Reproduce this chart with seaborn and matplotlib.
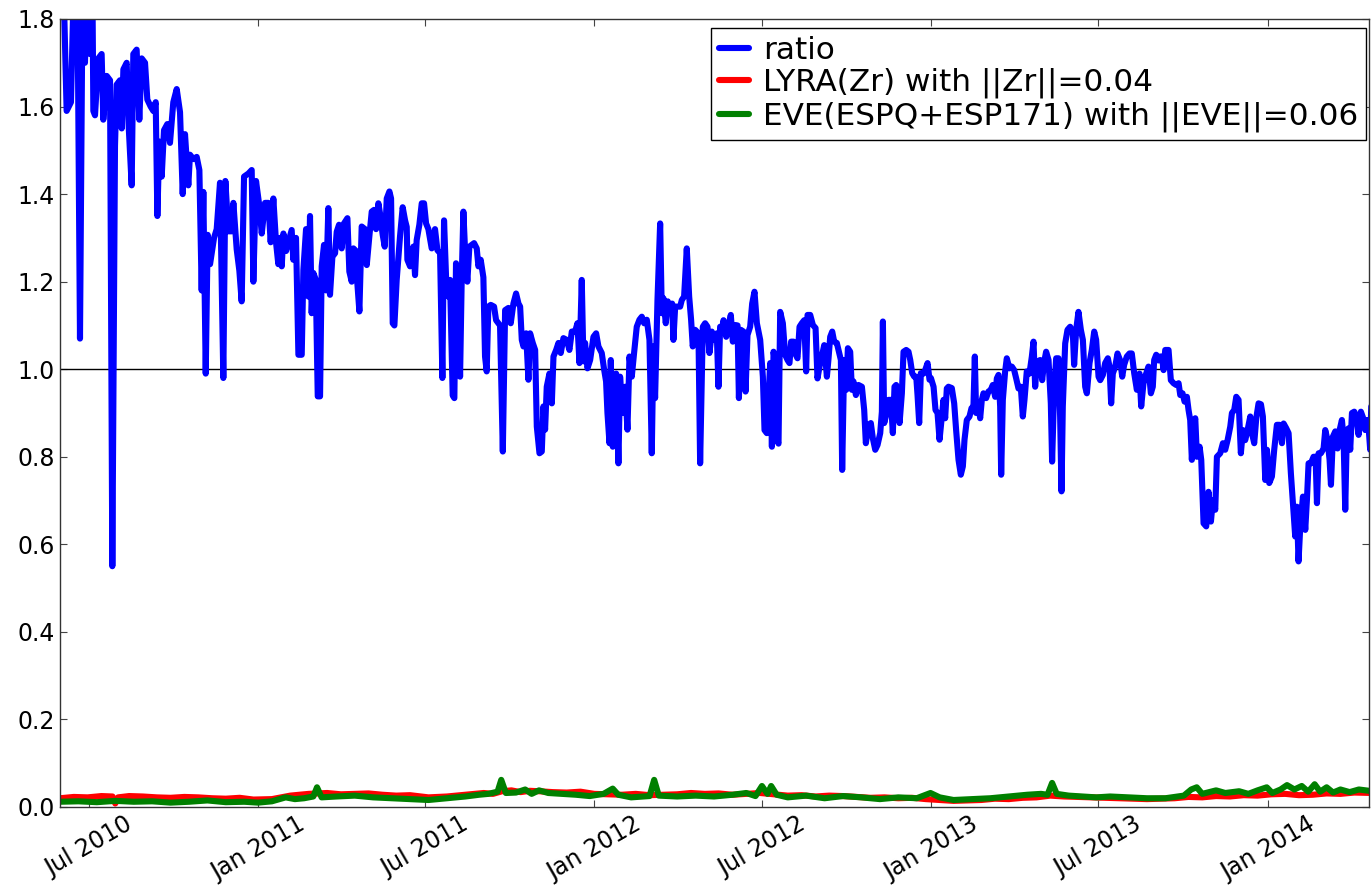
import numpy as np
import pandas as pd
import matplotlib
matplotlib.use("Agg")
import matplotlib.pyplot as plt
import matplotlib.dates as mdates
from matplotlib.ticker import FormatStrFormatter
import seaborn as sns

# Time axis: days counted from the first day of the series
START = pd.Timestamp("2010-05-31")
END = pd.Timestamp("2014-04-21")

ratio_day = [
    0, 3.6, 7.2, 11.9, 15.2, 18.8, 21.7, 24.6, 27.1, 29.7, 32.6, 35.1, 36.2, 38, 41.6, 45.2, 47, 50.7,
    54.3, 56.8, 59.7, 61.5, 65.1, 67, 68.8, 72.4, 74.2, 77.8, 79.6, 83.2, 86.1, 88.7, 92.3, 94.8, 98.4,
    101.3, 103.9, 105.7, 107.8, 110.4, 112.9, 116.5, 119.4, 123, 126.7, 130.3, 133.2, 135.7, 139.3,
    141.1, 144.8, 148.4, 151.3, 153.8, 155.6, 158.2, 160.3, 162.9, 167.2, 170.1, 173.7, 177.3, 179.5,
    182.8, 186.4, 188.2, 191.8, 194.7, 197.2, 199.8, 204.5, 208.1, 209.9, 212.8, 216.4, 219, 222.6,
    226.2, 228.7, 231.6, 234.5, 237, 238.9,
    240.7, 242.5, 245.4, 247.9, 251.5, 253.3, 256.2, 258.8, 262.4, 264.2, 267.1, 269.6, 271.4, 273.2,
    275, 277.6, 279.8, 282.3, 284.1, 286.6, 288.8, 291.3, 293.1, 295.7, 298.6, 300.4, 302.9, 305.8,
    308.3, 312, 314.1, 316.7, 318.5, 321.4, 322.8, 325, 327.5, 331.1, 333, 335.8, 338.4, 340.9, 343.1,
    345.6, 347.4, 350.3, 352.5, 354.7, 357.6, 359.4, 361.2, 363, 365.5, 369.1, 372, 374.6, 376.4, 377.1,
    380, 383.6, 385.4, 387.2, 390.1, 392.7, 395.2, 397.4, 399.9, 403.5, 407.1, 409.7, 412.6, 415.1,
    416.9, 419.1, 421.6, 423.4, 426.3, 428.1, 429.9, 432.5, 434.3, 436.1, 437.9, 439.7, 442.2, 444.4,
    447, 449.5, 452.4, 454.2, 456.7, 459.6, 461.4, 463.2, 465, 467.6, 471.2, 473.4, 477.7,
    480.7, 483.2, 486.8, 489.3, 492.2, 495.1, 497.7, 499.5, 501.3, 503.1, 506, 508.5, 510.3, 513.2,
    515.8, 517.6, 520.5, 523, 524.8, 526.6, 528.4, 531.3, 533.9, 535.7, 538.6, 541.1, 543.6, 546.5,
    550.1, 553, 555.6, 559.2, 561.7, 563.9, 566.4, 568.2, 570, 572.6, 575.5, 579.1, 582, 584.5, 588.1,
    590.7, 592.8, 594.3, 596.5, 597.9, 600.1, 601.5, 603.7, 606.2, 608, 610.9, 613.5, 616, 618.2, 620.7,
    623.2, 626.1, 629, 631.6, 634.1, 637, 639.9, 642.4, 644.2, 646, 648.6, 651.5, 653.3, 655.1, 657.6,
    659.8, 662.3, 664.5, 665.9, 667.8, 670.3, 673.2, 675, 677.5, 680.4, 683, 685.1, 686.9, 689.5, 693.1,
    694.9, 697.8, 700.3, 702.9, 705, 707.6, 710.1, 713, 714.8, 716.6,
    718.5, 720.3, 723.2, 725.7, 728.2, 730.4, 733, 735.5, 737, 739.1, 742, 744.2, 746.3, 749.2, 751.4,
    753.9, 756.5, 760.1, 763, 764.8, 767.3, 769.5, 771, 772.8, 774.6, 776.4, 778.2, 780, 781.8, 784.7,
    787.2, 789.8, 791.9, 793.7, 796.3, 798.1, 800.6, 802.8, 805.3, 807.9, 810, 811.5, 814.4, 817.3,
    820.2, 822.3, 825.2, 827.4, 829.6, 832.5, 834.3, 836.1, 838.3, 840.4, 843.3, 845.5, 847.7, 849.1,
    851.3, 853.5, 855.3, 857.8, 859.6, 861.4, 864, 866.8, 870.5, 873, 874.8, 877.7, 880.2, 882.4, 885,
    887.5, 890.4, 892.2, 893.3, 894.7, 896.9, 899.4, 902, 904.1, 905.9, 907.7, 909.2, 911.4, 913.9,
    915.7, 918.6, 921.1, 923, 925.1, 927.3, 929.5, 930.9, 932.7, 934.5, 937.4, 939.2, 941.8, 943.9,
    945.4, 948.3, 950.4, 952.6, 954.8,
    957.3, 959.1, 960.9, 962.7, 964.5, 968.1, 970.7, 972.8, 975.4, 977.9, 980.1, 981.9, 984.4, 987.3,
    989.5, 991.6, 993.1, 994.5, 997.1, 998.9, 1000.7, 1002.5, 1005.4, 1007.9, 1010.5, 1012.6, 1015.2,
    1017, 1018.8, 1020.6, 1021.7, 1023.5, 1026, 1027.8, 1030.7, 1033.3, 1035.8, 1038, 1040.5, 1043,
    1045.2, 1047, 1049.5, 1052.4, 1055, 1056.8, 1058.6, 1060.4, 1064, 1066.2, 1068.4, 1070.5, 1073.1,
    1075.6, 1077, 1079.2, 1081.4, 1083.9, 1085.7, 1087.2, 1088.6, 1091.2, 1093.7, 1096.6, 1099.5,
    1100.9, 1103.1, 1105.6, 1108.2, 1110.4, 1112.9, 1114.7, 1117.6, 1120.1, 1122.7, 1124.8, 1127.4,
    1129.2, 1132.1, 1134.6, 1137.5, 1139.3, 1141.1, 1142.9, 1145.5, 1148, 1150.9, 1153.1, 1155.2,
    1158.1, 1161, 1163.5, 1166.1, 1169, 1171.9, 1173.7, 1176.2, 1179.1, 1181.6, 1184.2, 1186.3,
    1187.8, 1190, 1192.5, 1194.3,
    1196.2, 1198, 1199.8, 1203.4, 1205.9, 1208.8, 1211.7, 1214.3, 1216.1, 1218.6, 1220.8, 1223.3,
    1225.1, 1226.9, 1228.7, 1230.5, 1232.4, 1234.2, 1237.1, 1238.9, 1241.4, 1244.3, 1246.8, 1249.4,
    1251.5, 1254.1, 1255.9, 1259.5, 1262.4, 1264.9, 1267.5, 1270.4, 1272.2, 1274.7, 1276.9, 1279.4,
    1281.9, 1284.1, 1286.6, 1289.2, 1292.1, 1293.9, 1296.4, 1298.6, 1301.1, 1303.7, 1305.8, 1308.4,
    1310.2, 1312.7, 1315.6, 1318.1, 1321, 1323.9, 1326.5, 1328.3, 1331.2, 1333.7, 1336.2, 1339.1,
    1340.9, 1342.7, 1344.5, 1346.4, 1349.3, 1351.8, 1353.6, 1355.4, 1357.9, 1360.8, 1363, 1364.5,
    1366.3, 1368.8, 1371.7, 1373.5, 1376, 1378.2, 1379.7, 1381.8, 1384.4, 1386.9, 1389.1, 1391.6,
    1393.4, 1395.2, 1397, 1398.8, 1400.6, 1402.5, 1405, 1407.2, 1409.7, 1412.2, 1414.4, 1416.9,
    1418.7, 1420.5, 1422.3, 1423.4,
]
ratio_val = [
    1.90, 1.90, 1.59, 1.61, 1.90, 1.90, 1.07, 1.90, 1.70, 1.90, 1.72, 1.90, 1.59, 1.58, 1.71, 1.72, 1.57, 1.67,
    1.66, 0.55, 1.51, 1.65, 1.66, 1.55, 1.685, 1.70, 1.57, 1.42, 1.72, 1.73, 1.57, 1.71, 1.70, 1.616, 1.60,
    1.59, 1.61, 1.35, 1.52, 1.44, 1.546, 1.56, 1.517, 1.61, 1.64, 1.587, 1.40, 1.537, 1.42,
    1.49, 1.48, 1.485, 1.455, 1.18, 1.405, 0.99, 1.307, 1.24, 1.30, 1.32, 1.426, 0.98, 1.43,
    1.315, 1.315, 1.38, 1.274, 1.225, 1.155, 1.44, 1.447, 1.455, 1.20, 1.43, 1.373, 1.31, 1.38,
    1.38, 1.29, 1.39, 1.29, 1.24, 1.30,
    1.235, 1.31, 1.27, 1.29, 1.318, 1.25, 1.30, 1.033, 1.033, 1.227, 1.32, 1.166, 1.35, 1.128,
    1.22, 1.205, 0.938, 0.938, 1.235, 1.284, 1.18, 1.368, 1.17, 1.257, 1.265, 1.314, 1.33, 1.276,
    1.333, 1.345, 1.223, 1.20, 1.276, 1.27, 1.196, 1.132, 1.326, 1.32, 1.238, 1.303, 1.36, 1.364, 1.32,
    1.379, 1.356, 1.307, 1.28, 1.39, 1.406, 1.39, 1.105, 1.10, 1.204, 1.303, 1.37, 1.34, 1.325, 1.25,
    1.235, 1.28, 1.215, 1.295, 1.33, 1.379, 1.379, 1.333, 1.32, 1.276, 1.32, 1.272, 1.265, 0.98,
    1.34, 1.21, 1.166, 1.204, 0.94, 0.934, 1.242, 1.162, 0.983, 1.208, 1.36, 1.272, 1.20, 1.28,
    1.284, 1.288, 1.276, 1.235, 1.25, 1.21, 1.029, 0.995, 1.143, 1.147, 1.143, 1.112, 1.10,
    0.812, 1.135, 1.14, 1.105, 1.15, 1.173, 1.15, 1.143, 1.067, 1.052, 1.082, 0.976, 1.082, 1.06,
    1.044, 0.869, 0.808, 0.812, 0.915, 0.862, 0.96, 0.99, 0.922, 1.029, 1.044, 1.06, 1.037, 1.071,
    1.067, 1.044, 1.086, 1.086, 1.105, 1.014, 1.204, 1.018, 1.06, 1.002, 1.021, 1.074, 1.082, 1.052, 1.037,
    0.999, 0.972, 0.9, 0.831, 1.021, 0.823, 0.95, 0.99, 0.785, 0.983, 0.9, 0.96, 0.862, 1.029, 0.983,
    1.037, 1.097, 1.113, 1.12, 1.105, 1.113, 1.067, 0.808, 1.052, 0.934, 1.158, 1.333, 1.128, 1.162, 1.105,
    1.155, 1.135, 1.15, 1.067, 1.143, 1.143, 1.143, 1.158, 1.166, 1.276, 1.166, 1.113, 1.052, 1.09, 1.082,
    0.785, 1.097, 1.105, 1.097, 1.037, 1.086, 1.067, 1.082, 0.96, 1.097,
    1.09, 1.112, 1.074, 1.10, 1.124, 1.063, 1.101, 1.10, 0.934, 1.09, 1.086, 0.949, 1.078, 1.097, 1.15,
    1.177, 1.105, 1.067, 0.983, 0.861, 0.854, 0.953, 1.014, 0.823, 1.04, 1.014, 0.839, 0.83, 1.131, 1.105,
    1.033, 1.021, 1.014, 1.063, 1.063, 1.036, 1.025, 1.097, 1.105, 1.112, 0.995, 1.124, 1.124, 1.101,
    1.094, 0.979, 1.014, 1.033, 1.055, 0.983, 1.025, 1.074, 1.086, 1.063, 1.06, 1.04, 1.021, 0.77,
    1.021, 0.953, 1.048, 1.04, 0.953, 0.972, 0.941, 0.964, 0.96, 0.907, 0.831, 0.873, 0.877, 0.842, 0.816,
    0.827, 0.854, 0.903, 1.109, 0.877, 0.896, 0.93, 0.93, 0.854, 0.96, 0.964, 0.907, 0.877, 0.945,
    1.04, 1.044, 1.04, 1.021, 0.991, 0.983, 0.983, 0.941, 0.877, 0.991, 0.99, 0.998, 1.014, 0.976,
    0.98, 0.96, 0.907, 0.9, 0.839,
    0.892, 0.93, 0.888, 0.956, 0.96, 0.957, 0.922, 0.861, 0.793, 0.759, 0.778, 0.839, 0.884, 0.892,
    0.911, 0.915, 1.029, 0.9, 0.915, 0.888, 0.93, 0.945, 0.934, 0.949, 0.953, 0.964, 0.937,
    0.979, 0.987, 0.915, 0.759, 0.93, 0.995, 1.025, 1.002, 1.006, 0.998, 0.979, 0.956, 0.96,
    0.892, 0.93, 0.995, 0.99, 1.029, 1.063, 0.96, 1.017, 1.021, 0.975, 1.017, 1.04, 1.021,
    0.922, 0.789, 0.953, 1.025, 1.025, 0.892, 0.721, 0.915, 1.059, 1.09, 1.097, 1.082,
    1.01, 1.09, 1.131, 1.09, 1.067, 0.96, 0.945, 1.014, 1.044, 1.086, 1.067, 0.983,
    0.975, 0.987, 1.014, 1.025, 1.006, 0.922, 0.99, 1.006, 1.036, 1.02, 0.983, 1.01,
    1.029, 1.036, 1.036, 0.991, 0.953, 0.99, 0.915, 0.968, 0.99, 1.006, 0.945, 0.96,
    1.021, 1.033, 1.02, 1.029,
    1.029, 0.998, 1.044, 1.044, 0.975, 0.968, 0.964, 0.968, 0.941, 0.945, 0.926, 0.937,
    0.907, 0.884, 0.793, 0.869, 0.888, 0.8, 0.823, 0.793, 0.648, 0.641, 0.72, 0.652,
    0.701, 0.679, 0.8, 0.808, 0.831, 0.816, 0.838, 0.869, 0.9, 0.907, 0.937, 0.93,
    0.808, 0.861, 0.838, 0.861, 0.892, 0.854, 0.831, 0.888, 0.922, 0.92, 0.892, 0.747,
    0.816, 0.74, 0.755, 0.816, 0.873, 0.873, 0.831, 0.876, 0.865, 0.854, 0.762, 0.671,
    0.618, 0.686, 0.561, 0.641, 0.709, 0.633, 0.701, 0.785, 0.785, 0.8, 0.8, 0.694,
    0.808, 0.808, 0.819, 0.861, 0.838, 0.793, 0.736, 0.846, 0.858, 0.819, 0.861, 0.884,
    0.842, 0.679, 0.861, 0.865, 0.816, 0.9, 0.903, 0.892, 0.85, 0.903, 0.89, 0.861,
    0.884, 0.869, 0.816, 0.915,
]

lyra_day = [0, 15, 30, 45, 57, 60, 63, 75, 90, 105, 120, 135, 150, 165, 180, 195, 210, 230, 250, 260,
            270, 280, 290, 305, 320, 335, 350, 365, 380, 400, 420, 440, 460, 470, 480, 490, 500, 510,
            520, 535, 550, 565, 580, 595, 610, 625, 640, 655, 670, 685, 700, 715, 730, 745, 760, 775,
            790, 805, 820, 835, 850, 865, 880, 895, 910, 925, 940, 955, 970, 985, 1000, 1015, 1030,
            1045, 1060, 1075, 1090, 1105, 1120, 1135, 1150, 1165, 1180, 1195, 1210, 1225, 1240, 1255,
            1270, 1285, 1300, 1315, 1330, 1345, 1360, 1375, 1390, 1405, 1425]
lyra_val = [0.020, 0.023, 0.022, 0.025, 0.024, 0.008, 0.022, 0.025, 0.024, 0.022, 0.021, 0.023, 0.022,
            0.020, 0.019, 0.021, 0.017, 0.018, 0.026, 0.028, 0.030, 0.031, 0.032, 0.029, 0.030, 0.031,
            0.028, 0.026, 0.027, 0.022, 0.024, 0.028, 0.032, 0.030, 0.036, 0.038, 0.034, 0.037, 0.036,
            0.034, 0.033, 0.035, 0.030, 0.029, 0.028, 0.030, 0.027, 0.028, 0.029, 0.032, 0.030, 0.031,
            0.028, 0.030, 0.032, 0.029, 0.026, 0.027, 0.024, 0.026, 0.025, 0.023, 0.021, 0.022, 0.020,
            0.021, 0.018, 0.016, 0.014, 0.015, 0.016, 0.019, 0.018, 0.021, 0.022, 0.026, 0.024, 0.023,
            0.022, 0.021, 0.020, 0.019, 0.018, 0.019, 0.020, 0.023, 0.022, 0.025, 0.024, 0.027, 0.026,
            0.029, 0.030, 0.027, 0.028, 0.031, 0.030, 0.033, 0.032]

eve_day = [0, 20, 40, 60, 80, 100, 120, 140, 160, 180, 200, 215, 230, 245, 255, 265, 275, 279, 284,
           300, 320, 340, 360, 380, 400, 420, 440, 455, 465, 475, 479, 484, 495, 505, 512, 520, 530,
           545, 560, 575, 590, 600, 606, 620, 640, 645, 650, 670, 690, 710, 730, 745, 755, 762, 768,
           772, 778, 790, 810, 830, 850, 870, 890, 910, 930, 945, 955, 970, 990, 1010, 1030, 1050,
           1065, 1072, 1077, 1082, 1095, 1110, 1125, 1140, 1160, 1180, 1200, 1220, 1228, 1234, 1240,
           1255, 1265, 1280, 1290, 1300, 1310, 1316, 1325, 1332, 1340, 1348, 1355, 1362, 1368, 1375,
           1382, 1390, 1400, 1410, 1425]
eve_val = [0.012, 0.013, 0.011, 0.014, 0.012, 0.013, 0.010, 0.012, 0.015, 0.011, 0.012, 0.010, 0.013,
           0.022, 0.018, 0.020, 0.024, 0.045, 0.022, 0.024, 0.026, 0.022, 0.020, 0.018, 0.016, 0.020,
           0.024, 0.028, 0.030, 0.035, 0.062, 0.032, 0.033, 0.040, 0.030, 0.038, 0.032, 0.030, 0.028,
           0.025, 0.030, 0.042, 0.028, 0.022, 0.025, 0.062, 0.026, 0.024, 0.026, 0.024, 0.028, 0.032,
           0.025, 0.048, 0.030, 0.048, 0.028, 0.022, 0.026, 0.020, 0.025, 0.022, 0.018, 0.022, 0.020,
           0.032, 0.022, 0.016, 0.018, 0.020, 0.024, 0.028, 0.030, 0.028, 0.055, 0.030, 0.026, 0.024,
           0.022, 0.024, 0.022, 0.020, 0.020, 0.026, 0.040, 0.045, 0.030, 0.038, 0.032, 0.036, 0.030,
           0.038, 0.045, 0.032, 0.040, 0.050, 0.040, 0.048, 0.035, 0.052, 0.035, 0.045, 0.033, 0.040,
           0.034, 0.040, 0.036]

series_names = ["ratio", "LYRA(Zr) with ||Zr||=0.04", "EVE(ESPQ+ESP171) with ||EVE||=0.06"]
series_colors = ["#0000ff", "#ff0000", "#008000"]
LINE_W = 4.4

sns.set_style("ticks", {"xtick.direction": "in", "ytick.direction": "in",
                        "axes.edgecolor": "black", "text.color": "black",
                        "xtick.color": "black", "ytick.color": "black"})
plt.rcParams["font.family"] = ["DejaVu Sans"]

fig = plt.figure(figsize=(13.71, 8.91), dpi=100)
ax = fig.add_axes([60 / 1371, 1 - 807 / 891, 1309 / 1371, 788 / 891])

ax.axhline(1.0, color="black", lw=1.0, zorder=1.5)

for days, vals, name, color in zip([ratio_day, lyra_day, eve_day],
                                   [ratio_val, lyra_val, eve_val],
                                   series_names, series_colors):
    dates = START + pd.to_timedelta(np.asarray(days, dtype=float), unit="D")
    sns.lineplot(x=dates, y=vals, color=color, lw=LINE_W, label=name,
                 estimator=None, sort=False, ax=ax, zorder=2)

ax.set_xlim(START, END)
ax.set_ylim(0, 1.8)
ax.set_yticks(np.arange(0, 1.81, 0.2))
ax.yaxis.set_major_formatter(FormatStrFormatter("%.1f"))
ax.xaxis.set_major_locator(mdates.MonthLocator(bymonth=(1, 7)))
ax.xaxis.set_major_formatter(mdates.DateFormatter("%b %Y"))
ax.set_xlabel("")
ax.set_ylabel("")

ax.tick_params(axis="both", which="major", direction="in", length=5, width=0.8,
               top=True, right=True, labelsize=17, color="#444444", labelcolor="black")
for lab in ax.get_xticklabels():
    lab.set_rotation(30)
    lab.set_ha("center")

for sp in ax.spines.values():
    sp.set_visible(True)
    sp.set_color("#333333")
    sp.set_linewidth(1.0)

leg = ax.legend(loc="upper right", bbox_to_anchor=(0.9975, 0.9886), borderaxespad=0,
                fontsize=22.4, handlelength=0.95, handletextpad=0.45, labelspacing=0.1,
                borderpad=0.25, fancybox=False, framealpha=1, edgecolor="black")
leg.get_frame().set_linewidth(1.0)
for txt in leg.get_texts():
    txt.set_color("black")
for h in leg.get_lines():
    h.set_linewidth(LINE_W)

fig.savefig("out.png", dpi=100)
